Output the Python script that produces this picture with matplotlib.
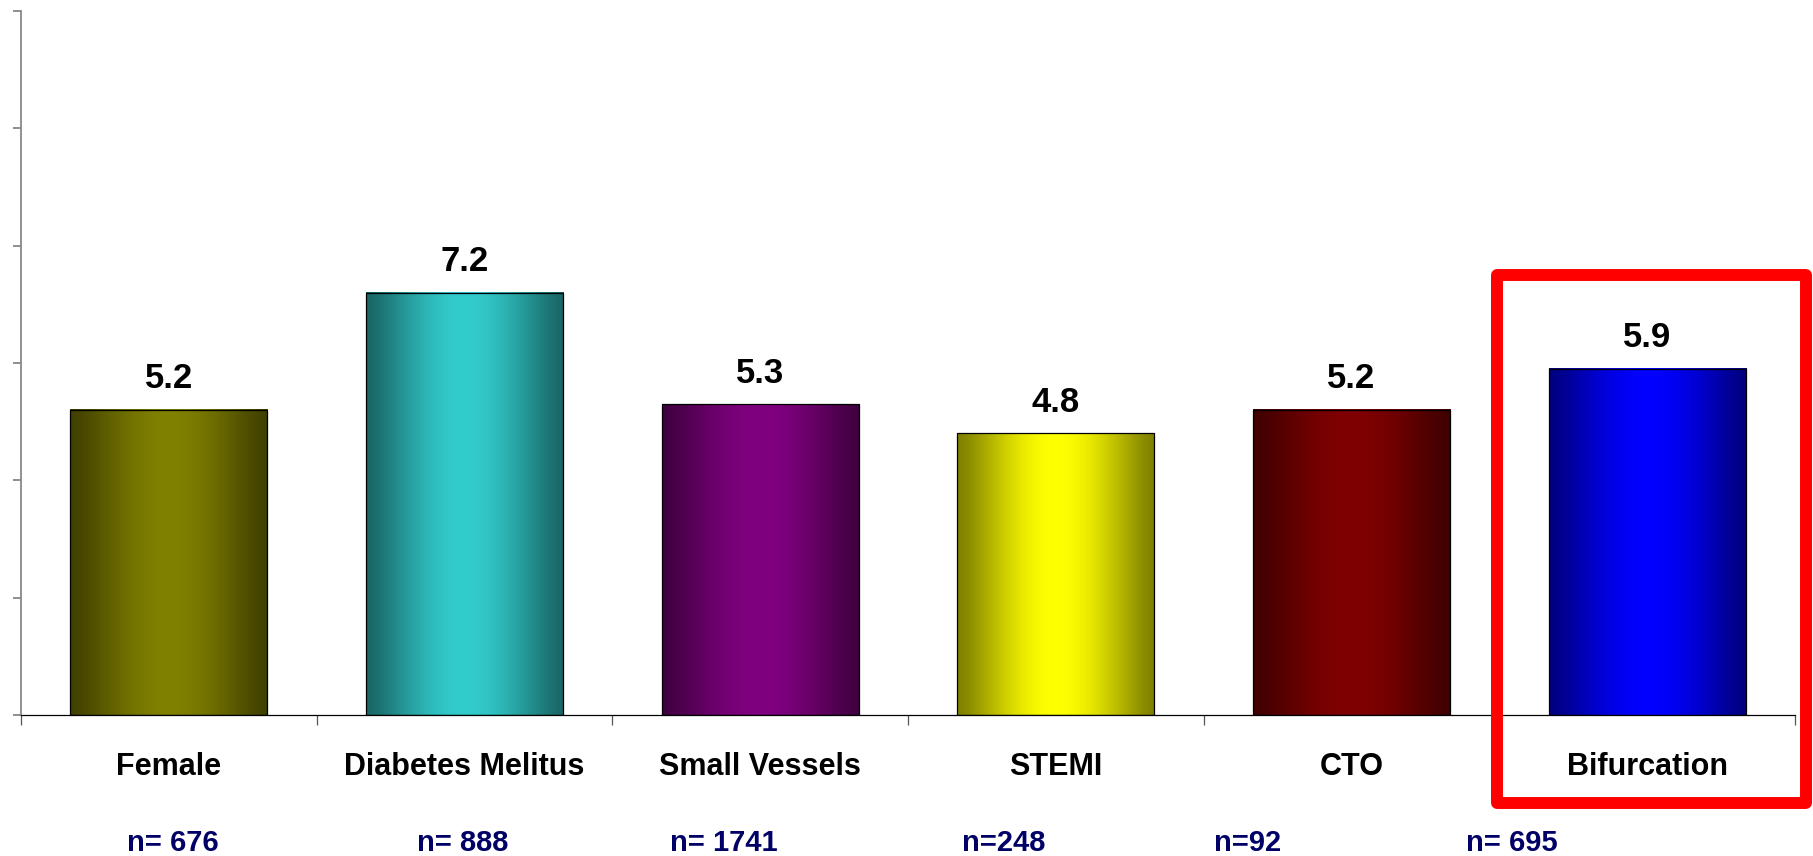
import numpy as np
import matplotlib
matplotlib.use("Agg")
import matplotlib.pyplot as plt
from matplotlib.patches import Rectangle
from matplotlib.transforms import blended_transform_factory

plt.rcParams['font.family'] = ['Liberation Sans', 'DejaVu Sans']

categorias = ['Female', 'Diabetes Melitus', 'Small Vessels', 'STEMI', 'CTO', 'Bifurcation']
valores = [5.2, 7.2, 5.3, 4.8, 5.2, 5.9]
n_labels = ['n= 676', 'n= 888', 'n= 1741', 'n=248', 'n=92', 'n= 695']

# cor do centro de cada barra (bordas ficam com metade do brilho)
cores = ['#808000', '#33cccc', '#800080', '#ffff00', '#800000', '#0000ff']

# posicao horizontal dos rotulos "n=" (em unidades de categoria)
n_pos = [0.014, 0.995, 1.876, 2.824, 3.649, 4.542]

fig = plt.figure(figsize=(18.13, 8.56), dpi=100, facecolor='w')
ax = fig.add_axes([0.01158, 0.16472, 0.97849, 0.82243])

x = np.arange(len(categorias))
largura = 0.667
barras = ax.bar(x, valores, width=largura, color='none', edgecolor='black',
                linewidth=0.9, zorder=3)

# preenchimento em degrade horizontal: escuro nas bordas, claro no meio
t = np.linspace(0, 1, 256)
perfil = np.sin(np.pi * t) ** 1.3
for b, c in zip(barras, cores):
    rgb = np.array(matplotlib.colors.to_rgb(c))
    borda = rgb * 0.5
    img = borda[None, :] + (rgb - borda)[None, :] * perfil[:, None]
    img = img[None, :, :]
    ax.imshow(img, extent=(b.get_x(), b.get_x() + b.get_width(), 0, b.get_height()),
              aspect='auto', interpolation='bilinear', zorder=2)

# valores em cima das barras
for xi, v in zip(x, valores):
    ax.annotate(f'{v:.1f}', (xi, v), xytext=(0, 15.5), textcoords='offset points',
                ha='center', va='baseline', fontsize=25, fontweight='bold', color='black')

ax.set_xlim(-0.5, 5.5)
ax.set_ylim(0, 12)

ax.set_xticks(x)
ax.set_xticklabels(categorias, fontsize=22, fontweight='bold')
ax.tick_params(axis='x', which='major', length=0, pad=27)
ax.set_xticks(np.arange(-0.5, 6, 1), minor=True)
ax.tick_params(axis='x', which='minor', length=7, width=0.9, color='#555555', direction='out')

ax.set_yticks(np.arange(0, 13, 2))
ax.set_yticklabels([])
ax.tick_params(axis='y', length=6, width=1.1, color='#707070', direction='out')

ax.spines['top'].set_visible(False)
ax.spines['right'].set_visible(False)
ax.spines['left'].set_color('#888888')
ax.spines['left'].set_linewidth(1.3)
ax.spines['bottom'].set_color('black')
ax.spines['bottom'].set_linewidth(0.9)

# rotulos com o tamanho da amostra
trans = blended_transform_factory(ax.transData, fig.transFigure)
for xp, lbl in zip(n_pos, n_labels):
    ax.text(xp, 0.0055, lbl, transform=trans, ha='center', va='baseline',
            fontsize=21, fontweight='bold', color='#000066', clip_on=False)

# destaque em vermelho na bifurcacao
destaque = Rectangle((0.8255, 0.0619), 0.9961 - 0.8255, 0.6787 - 0.0619,
                     transform=fig.transFigure, fill=False, edgecolor='#ff0000',
                     linewidth=8.6, joinstyle='round', zorder=10)
fig.patches.append(destaque)

fig.savefig('out.png', dpi=100, facecolor='w')
